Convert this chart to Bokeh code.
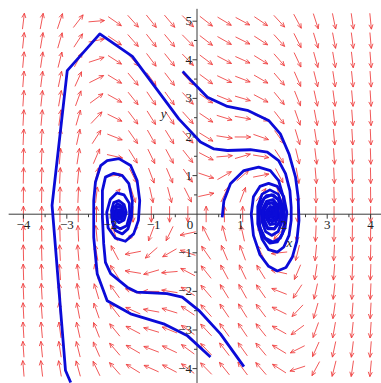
import numpy as np
from bokeh.plotting import figure
from bokeh.models import Range1d
from bokeh.embed import file_html
from bokeh.resources import INLINE
from bokeh.core.properties import value

# ---------------- data ----------------
# axis ticks
X_MAJOR = [-4, -3, -2, -1, 1, 2, 3, 4]
X_LABELS = ["−4", "−3", "−2", "−1", "1", "2", "3", "4"]
X_MINOR = [-3.5, -2.5, -1.5, -0.5, 0.5, 1.5, 2.5, 3.5]
Y_MAJOR = [-4, -3, -2, -1, 1, 2, 3, 4, 5]
Y_LABELS = ["−4", "−3", "−2", "−1", "1", "2", "3", "4", "5"]
Y_MINOR = [-3.5, -2.5, -1.5, -0.5, 0.5, 1.5, 2.5, 3.5, 4.5]

# direction-field grid (20 columns x 19 rows) of the system x' = y, y' = 3x - x^3 - y
FIELD_X = np.linspace(-4, 4, 20)
FIELD_Y = np.linspace(-4, 5, 19)
COEF_LIN, COEF_CUB, COEF_DAMP = 3.0, 1.0, 1.0

# solution curves
TRAJ_A_X = [-2.91, -3.03, -3.34, -2.99, -2.24, -1.49, -0.42, 0.08, 0.39, 0.70, 1.23, 1.62, 1.88, 2.04, 2.14, 2.17, 2.17,
            2.12, 2.0, 1.85, 1.65, 1.5, 1.4, 1.4, 1.5, 1.68, 1.87, 1.97, 1.97, 1.87, 1.72, 1.58, 1.5, 1.5, 1.6, 1.75,
            1.87, 1.88, 1.8, 1.68, 1.6, 1.6, 1.68, 1.79, 1.82, 1.75, 1.67, 1.66, 1.73, 1.75, 1.7]
TRAJ_A_Y = [-4.36, -4.05, 0.23, 3.72, 4.67, 4.09, 2.47, 1.87, 1.69, 1.65, 1.67, 1.61, 1.39, 1.05, 0.61, 0.18, -0.16,
            -0.55, -0.85, -0.98, -0.92, -0.65, -0.25, 0.2, 0.52, 0.63, 0.52, 0.22, -0.15, -0.45, -0.55, -0.45, -0.2,
            0.12, 0.33, 0.38, 0.22, -0.05, -0.25, -0.27, -0.12, 0.08, 0.2, 0.17, 0.02, -0.1, -0.06, 0.05, 0.09, 0.02, 0.01]

TRAJ_B_X = [-0.33, -0.15, 0.24, 0.70, 1.16, 1.65, 1.92, 2.12, 2.27, 2.33, 2.35, 2.3, 2.2, 2.05, 1.85, 1.65, 1.45,
            1.3, 1.25, 1.3, 1.45, 1.65, 1.85, 2.0, 2.07, 2.03, 1.92, 1.75, 1.57, 1.45, 1.42, 1.47, 1.6, 1.76, 1.9,
            1.95, 1.9, 1.78, 1.63, 1.55, 1.55, 1.63, 1.76, 1.85, 1.85, 1.77, 1.66, 1.62, 1.67, 1.76, 1.79, 1.74,
            1.69, 1.71]
TRAJ_B_Y = [3.70, 3.48, 3.03, 2.79, 2.69, 2.43, 2.08, 1.56, 0.96, 0.44, -0.16, -0.7, -1.1, -1.38, -1.47, -1.35,
            -1.05, -0.55, 0.0, 0.45, 0.72, 0.8, 0.72, 0.45, 0.05, -0.35, -0.62, -0.72, -0.62, -0.35, 0.0, 0.3, 0.48,
            0.5, 0.35, 0.05, -0.22, -0.38, -0.35, -0.15, 0.1, 0.27, 0.3, 0.15, -0.05, -0.17, -0.14, 0.0, 0.14, 0.14,
            0.03, -0.05, 0.0, 0.05]

TRAJ_C_X = [0.58, 0.62, 0.77, 1.08, 1.42, 1.69, 1.88, 1.99, 2.02, 1.97, 1.85, 1.68, 1.52, 1.43, 1.45, 1.55, 1.72,
            1.87, 1.93, 1.9, 1.78, 1.63, 1.53, 1.52, 1.6, 1.73, 1.83, 1.83, 1.74, 1.63, 1.6, 1.66, 1.76, 1.77, 1.7,
            1.66, 1.72]
TRAJ_C_Y = [-0.08, 0.35, 0.79, 1.13, 1.22, 1.13, 0.87, 0.44, -0.16, -0.5, -0.72, -0.75, -0.58, -0.25, 0.15, 0.42,
            0.5, 0.38, 0.1, -0.2, -0.38, -0.38, -0.2, 0.08, 0.27, 0.3, 0.15, -0.07, -0.2, -0.15, 0.02, 0.15, 0.12,
            -0.02, -0.08, 0.02, 0.06]

TRAJ_D1_X = [1.08, 0.54, 0.04, -0.34, -0.69, -1.38, -1.61, -1.99, -2.11, -2.15, -2.18, -2.18, -2.11, -1.92, -1.72,
             -1.57, -1.49, -1.51, -1.59, -1.72, -1.88, -1.95, -1.97, -1.92, -1.8, -1.68, -1.63, -1.68, -1.8, -1.9,
             -1.9, -1.85, -1.75, -1.7, -1.75, -1.83, -1.84, -1.78, -1.76, -1.8]
TRAJ_D1_Y = [-3.95, -3.10, -2.49, -2.15, -2.06, -2.02, -1.89, -1.54, -1.25, -0.77, -0.08, 0.61, 0.96, 1.06, 1.0,
             0.79, 0.35, -0.08, -0.38, -0.51, -0.42, -0.21, 0.1, 0.3, 0.35, 0.25, 0.05, -0.15, -0.22, -0.12, 0.05,
             0.18, 0.18, 0.05, -0.07, -0.07, 0.04, 0.1, 0.03, 0.02]

TRAJ_D2_X = [0.31, -0.23, -0.77, -1.53, -2.07, -2.30, -2.38, -2.38, -2.34, -2.22, -2.07, -1.80, -1.53, -1.38, -1.32,
             -1.35, -1.46, -1.65, -1.88, -2.05, -2.08, -2.0, -1.85, -1.68, -1.56, -1.55, -1.62, -1.77, -1.92, -1.95,
             -1.93, -1.83, -1.72, -1.68, -1.73, -1.83, -1.88, -1.84, -1.77, -1.75, -1.8, -1.81]
TRAJ_D2_Y = [-3.70, -3.14, -2.84, -2.58, -2.24, -1.54, -0.60, 0.35, 0.83, 1.26, 1.39, 1.44, 1.26, 0.87, 0.35, -0.16,
             -0.51, -0.70, -0.62, -0.35, 0.05, 0.38, 0.55, 0.5, 0.28, -0.02, -0.3, -0.38, -0.28, -0.1, 0.15, 0.27,
             0.2, 0.02, -0.12, -0.14, -0.02, 0.1, 0.1, 0.0, -0.03, 0.03]

TRAJECTORIES = [(TRAJ_A_X, TRAJ_A_Y), (TRAJ_B_X, TRAJ_B_Y), (TRAJ_C_X, TRAJ_C_Y),
                (TRAJ_D1_X, TRAJ_D1_Y), (TRAJ_D2_X, TRAJ_D2_Y)]

# ---------------- layout ----------------
W, H = 381, 383
X0, X1 = -4.528, 4.251
Y0, Y1 = -4.386, 5.536
kx = W / (X1 - X0)   # px per x unit
ky = H / (Y1 - Y0)   # px per y unit

p = figure(width=W, height=H, output_backend="svg", toolbar_location=None,
           x_range=Range1d(X0, X1), y_range=Range1d(Y0, Y1), min_border=0,
           background_fill_color="white", border_fill_color="white")
p.axis.visible = False
p.grid.visible = False
p.outline_line_color = None

# ---------------- direction field arrows ----------------
FX, FY = np.meshgrid(FIELD_X, FIELD_Y)
U = FY
V = COEF_LIN * FX - COEF_CUB * FX ** 3 - COEF_DAMP * FY
sx, sy = U * kx, V * ky
n = np.hypot(sx, sy)
ux, uy = sx / n, sy / n
L = 16.0
hx0 = FX - ux * L / 2 / kx
hy0 = FY - uy * L / 2 / ky
hx1 = FX + ux * L / 2 / kx
hy1 = FY + uy * L / 2 / ky
arrow_col = "#ee3b3b"
p.segment(hx0.ravel(), hy0.ravel(), hx1.ravel(), hy1.ravel(), line_color=arrow_col, line_width=1, line_alpha=0.85)
hl = 5.0
for ang in (np.radians(24), -np.radians(24)):
    bx = -(ux * np.cos(ang) - uy * np.sin(ang))
    by = -(ux * np.sin(ang) + uy * np.cos(ang))
    p.segment(hx1.ravel(), hy1.ravel(), (hx1 + bx * hl / kx).ravel(), (hy1 + by * hl / ky).ravel(),
              line_color=arrow_col, line_width=1, line_alpha=0.85)

# ---------------- axes ----------------
axis_col = "#3a3a3a"
p.segment([-4.34], [0], [X1], [0], line_color=axis_col, line_width=1)
p.segment([0], [Y0], [0], [5.32], line_color=axis_col, line_width=1)
p.segment(X_MAJOR, [0] * len(X_MAJOR), X_MAJOR, [-4.5 / ky] * len(X_MAJOR), line_color=axis_col, line_width=1)
p.segment(X_MINOR, [0] * len(X_MINOR), X_MINOR, [-3 / ky] * len(X_MINOR), line_color=axis_col, line_width=1)
p.segment([0] * len(Y_MAJOR), Y_MAJOR, [-4.5 / kx] * len(Y_MAJOR), Y_MAJOR, line_color=axis_col, line_width=1)
p.segment([0] * len(Y_MINOR), Y_MINOR, [-3 / kx] * len(Y_MINOR), Y_MINOR, line_color=axis_col, line_width=1)

# ---------------- trajectories ----------------
for tx, ty in TRAJECTORIES:
    p.line(tx, ty, line_color="#0b0bd8", line_width=2.8, line_join="round")

# ---------------- labels ----------------
font = value("Liberation Serif")
p.text(X_MAJOR, [0] * len(X_MAJOR), text=X_LABELS, text_font=font, text_font_size=value("13px"),
       text_align="center", text_baseline="top", y_offset=7, text_color="#222222")
p.text([0], [0], text=["0"], text_font=font, text_font_size=value("13px"),
       text_align="center", text_baseline="top", y_offset=7, x_offset=-7, text_color="#222222")
p.text([0] * len(Y_MAJOR), Y_MAJOR, text=Y_LABELS, text_font=font, text_font_size=value("13px"),
       text_align="right", text_baseline="middle", x_offset=-5, text_color="#222222")
p.text([2.13], [-0.73], text=["x"], text_font=font, text_font_size=value("13px"), text_font_style="italic",
       text_align="center", text_baseline="middle", text_color="#222222")
p.text([-0.77], [2.61], text=["y"], text_font=font, text_font_size=value("13px"), text_font_style="italic",
       text_align="center", text_baseline="middle", text_color="#222222")

open("out.html", "w").write(file_html(p, INLINE))
